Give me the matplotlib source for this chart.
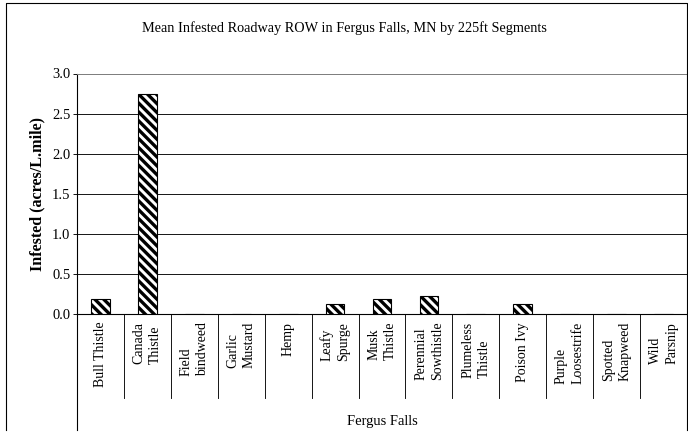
import numpy as np
import matplotlib
matplotlib.use("Agg")
import matplotlib.pyplot as plt
from matplotlib.lines import Line2D

categories = ["Bull Thistle", "Canada\nThistle", "Field\nbindweed", "Garlic\nMustard",
              "Hemp", "Leafy\nSpurge", "Musk\nThistle", "Perennial\nSowthistle",
              "Plumeless\nThistle", "Poison Ivy", "Purple\nLoosestrife",
              "Spotted\nKnapweed", "Wild\nParsnip"]
infested = [0.19, 2.74, 0.0, 0.0, 0.0, 0.13, 0.19, 0.22, 0.0, 0.12, 0.0, 0.0, 0.0]
yticks = [0.0, 0.5, 1.0, 1.5, 2.0, 2.5, 3.0]
group_label = "Fergus Falls"
title = "Mean Infested Roadway ROW in Fergus Falls, MN by 225ft Segments"

plt.rcParams["font.family"] = ["Liberation Serif", "DejaVu Serif"]
plt.rcParams["hatch.linewidth"] = 3.0

W, H = 688, 444
fig = plt.figure(figsize=(W / 80, H / 80), dpi=80)
ax_left, ax_right, ax_top, ax_bot = 77, 687, 73.5, 314
ax = fig.add_axes([ax_left / W, 1 - ax_bot / H, (ax_right - ax_left) / W, (ax_bot - ax_top) / H])

x = np.arange(len(categories))
ax.bar(x, infested, width=0.40, color="white", edgecolor="black", linewidth=1.0,
       hatch="\\\\\\", zorder=3)

ax.set_xlim(-0.5, len(categories) - 0.5)
ax.set_ylim(0, 3.0)
ax.set_yticks(yticks)
ax.set_yticklabels([f"{v:.1f}" for v in yticks], fontsize=13)
ax.yaxis.grid(True, color="black", linewidth=0.8)
ax.set_axisbelow(True)
ax.tick_params(axis="y", length=4, width=0.8, pad=2)

ax.set_xticks(x)
ax.set_xticklabels(categories, fontsize=12.5, rotation=90, linespacing=1.35)
for lab in ax.get_xticklabels():
    lab.set_ha("center")
    lab.set_va("top")
    lab.set_multialignment("left")
ax.tick_params(axis="x", length=0, pad=7)

ax.spines["top"].set_color("0.55")
ax.spines["right"].set_color("0.55")
ax.spines["left"].set_linewidth(1.0)
ax.spines["bottom"].set_linewidth(1.0)

ax.set_ylabel("Infested (acres/L.mile)", fontsize=14.5, fontweight="bold", labelpad=6)

# category box lines below the axis
ah = ax_bot - ax_top
sep_end = -(398 - ax_bot) / ah
box_end = -(430 - ax_bot) / ah
trans = ax.get_xaxis_transform()
for i in range(1, len(categories)):
    ax.add_line(Line2D([i - 0.5, i - 0.5], [0, sep_end], transform=trans,
                       color="black", linewidth=0.8, clip_on=False))
ax.add_line(Line2D([-0.5, -0.5], [0, box_end], transform=trans,
                   color="black", linewidth=1.0, clip_on=False))
ax.text(0.5, -(421 - ax_bot) / ah, group_label, transform=ax.transAxes,
        ha="center", va="center", fontsize=13)

fig.text(0.5, 1 - 28 / H, title, ha="center", va="center", fontsize=12.8)

# outer chart frame
fx0, fx1, fy0, fy1 = 6 / W, 686.5 / W, 1 - 430 / H, 1 - 3 / H
fig.add_artist(Line2D([fx0, fx0, fx1, fx1], [fy0, fy1, fy1, fy0],
                      transform=fig.transFigure, color="black", linewidth=1.0))

fig.savefig("out.png", dpi=80)
